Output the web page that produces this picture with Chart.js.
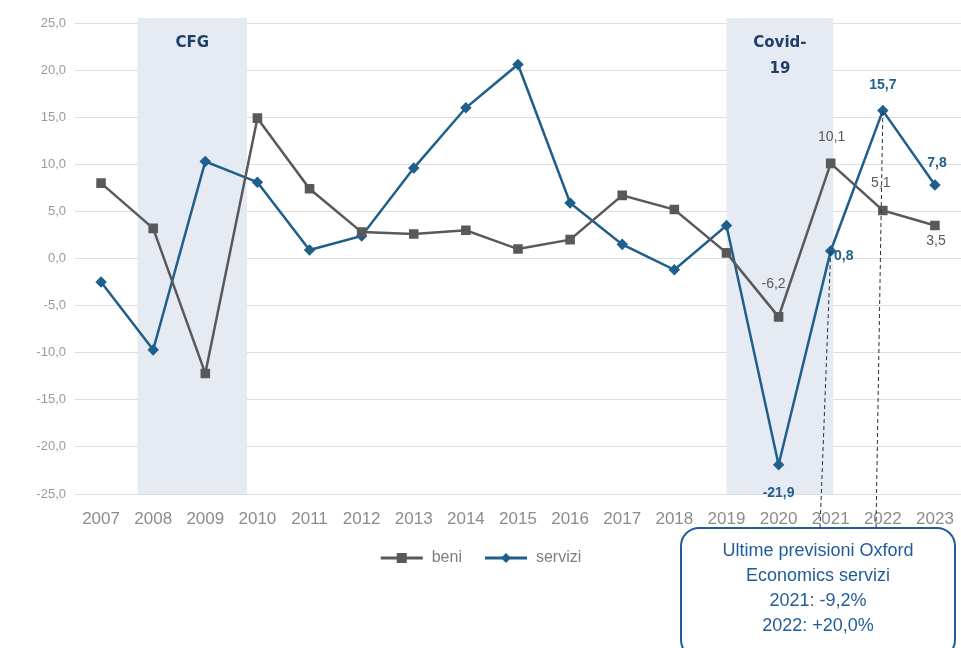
<!DOCTYPE html>
<html>
<head>
<meta charset="utf-8">
<script src="https://cdn.jsdelivr.net/npm/chart.js@4"></script>
<style>
  html, body { margin: 0; padding: 0; background: #ffffff; }
  #wrap { width: 961px; height: 648px; position: relative; }
</style>
</head>
<body>
<div id="wrap"><canvas id="chart" width="961" height="648"></canvas></div>
<script>
// dati
const years = ['2007', '2008', '2009', '2010', '2011', '2012', '2013', '2014', '2015', '2016', '2017', '2018', '2019', '2020', '2021', '2022', '2023'];
const beni = [8.0, 3.2, -12.2, 14.9, 7.4, 2.8, 2.6, 3.0, 1.0, 2.0, 6.7, 5.2, 0.6, -6.2, 10.1, 5.1, 3.5];
const servizi = [-2.5, -9.7, 10.3, 8.1, 0.9, 2.4, 9.6, 16.0, 20.6, 5.9, 1.5, -1.2, 3.5, -21.9, 0.8, 15.7, 7.8];
const yTicks = [25, 20, 15, 10, 5, 0, -5, -10, -15, -20, -25];
const shadedNames = [['CFG'], ['Covid-', '19']];
const shadedFrom = [2007.7, 2019.0];
const shadedTo = [2009.8, 2021.05];
const beniLabelled = ['2020', '2021', '2022', '2023'];
const serviziLabelled = ['2020', '2021', '2022', '2023'];
const noteLines = ['Ultime previsioni Oxford', 'Economics servizi', '2021: -9,2%', '2022: +20,0%'];
const noteYears = ['2021', '2022'];

const GREY = '#595959';
const BLUE = '#1f5f8b';
const fmt = v => v.toFixed(1).replace('.', ',');

function legendIcon(color, shape) {
    const c = document.createElement('canvas');
    c.width = 44; c.height = 12;
    const g = c.getContext('2d');
    g.strokeStyle = color;
    g.lineWidth = 3;
    g.beginPath(); g.moveTo(1, 6); g.lineTo(43, 6); g.stroke();
    g.fillStyle = color;
    if (shape === 'rect') {
        g.fillRect(17, 1, 10, 10);
    } else {
        g.beginPath(); g.moveTo(22, 1); g.lineTo(27, 6); g.lineTo(22, 11); g.lineTo(17, 6); g.closePath(); g.fill();
    }
    return c;
}

// fasce ombreggiate dietro le linee
const bandsPlugin = {
    id: 'bands',
    beforeDatasetsDraw(chart) {
        const { ctx, chartArea, scales } = chart;
        const x = scales.x;
        const toPx = yr => x.getPixelForValue(yr - 2007);
        ctx.save();
        shadedNames.forEach((name, i) => {
            const x0 = toPx(shadedFrom[i]);
            const x1 = toPx(shadedTo[i]);
            ctx.fillStyle = '#e5eaf3';
            ctx.fillRect(x0, chartArea.top - 5, x1 - x0, chartArea.bottom - chartArea.top + 5);
            ctx.fillStyle = '#1f3f66';
            ctx.font = 'bold 15px "DejaVu Sans"';
            ctx.textAlign = 'center';
            ctx.textBaseline = 'middle';
            name.forEach((t, k) => ctx.fillText(t, (x0 + x1) / 2, chartArea.top + 20 + k * 26));
        });
        ctx.restore();
    }
};

// etichette valori, nota e linee tratteggiate
const labelsPlugin = {
    id: 'valueLabels',
    afterDatasetsDraw(chart) {
        const { ctx } = chart;
        const mb = chart.getDatasetMeta(0).data;
        const ms = chart.getDatasetMeta(1).data;
        ctx.save();
        ctx.textAlign = 'center';
        ctx.textBaseline = 'middle';

        const bOff = { '2020': [-5, -33], '2021': [1, -26], '2022': [-2, -27], '2023': [1, 16] };
        ctx.fillStyle = GREY;
        ctx.font = '14px "Liberation Sans"';
        beniLabelled.forEach(yr => {
            const i = years.indexOf(yr);
            const p = mb[i];
            ctx.fillText(fmt(beni[i]), p.x + bOff[yr][0], p.y + bOff[yr][1]);
        });

        const sOff = { '2020': [0, 28], '2021': [13, 5], '2022': [0, -25], '2023': [2, -22] };
        ctx.fillStyle = BLUE;
        ctx.font = 'bold 14px "Liberation Sans"';
        serviziLabelled.forEach(yr => {
            const i = years.indexOf(yr);
            const p = ms[i];
            ctx.fillText(fmt(servizi[i]), p.x + sOff[yr][0], p.y + sOff[yr][1]);
        });

        // box nota
        const bx = 681, by = 528, bw = 274, bh = 130, r = 18;
        ctx.beginPath();
        ctx.roundRect(bx, by, bw, bh, r);
        ctx.fillStyle = '#ffffff';
        ctx.fill();
        ctx.lineWidth = 2;
        ctx.strokeStyle = '#1f5c99';
        ctx.stroke();
        ctx.fillStyle = '#1f5c99';
        ctx.font = '18px "Liberation Sans"';
        noteLines.forEach((t, k) => ctx.fillText(t, bx + bw / 2, by + 23 + k * 25));

        // linee tratteggiate verso i punti servizi
        ctx.setLineDash([4, 3]);
        ctx.lineWidth = 1;
        ctx.strokeStyle = '#1f2f44';
        const footX = [820, 876];
        noteYears.forEach((yr, k) => {
            const p = ms[years.indexOf(yr)];
            ctx.beginPath();
            ctx.moveTo(footX[k], by);
            ctx.lineTo(p.x, p.y);
            ctx.stroke();
        });
        ctx.restore();
    }
};

const ctx = document.getElementById('chart').getContext('2d');
const chart = new Chart(ctx, {
    type: 'line',
    data: {
        labels: years,
        datasets: [{
            label: 'beni',
            data: beni,
            borderColor: GREY,
            backgroundColor: GREY,
            borderWidth: 2.5,
            pointStyle: 'rect',
            pointRadius: 5,
            pointHoverRadius: 5,
            tension: 0
        }, {
            label: 'servizi',
            data: servizi,
            borderColor: BLUE,
            backgroundColor: BLUE,
            borderWidth: 2.5,
            pointStyle: 'rectRot',
            pointRadius: 4,
            pointHoverRadius: 4,
            tension: 0
        }]
    },
    options: {
        responsive: false,
        animation: false,
        layout: {
            autoPadding: false,
            padding: { top: 23, right: 0, left: 0, bottom: 72 }
        },
        plugins: {
            legend: {
                position: 'bottom',
                labels: {
                    color: '#7f7f7f',
                    font: { size: 16, family: '"Liberation Sans"' },
                    usePointStyle: true,
                    pointStyleWidth: 44,
                    padding: 22,
                    generateLabels: ch => ch.data.datasets.map((ds, i) => ({
                        text: ds.label,
                        fontColor: '#7f7f7f',
                        pointStyle: legendIcon(ds.borderColor, i === 0 ? 'rect' : 'diamond'),
                        lineWidth: 0,
                        strokeStyle: 'transparent',
                        fillStyle: 'transparent',
                        datasetIndex: i
                    }))
                }
            },
            tooltip: { enabled: false }
        },
        scales: {
            x: {
                offset: true,
                grid: { display: false },
                border: { display: false },
                afterFit: s => { s.paddingLeft = 0; s.paddingRight = 0; s.height = 34; },
                ticks: {
                    color: '#8c8c8c',
                    font: { size: 17, family: '"Liberation Sans"' },
                    maxRotation: 0,
                    autoSkip: false,
                    padding: 7
                }
            },
            y: {
                min: -25,
                max: 25,
                afterBuildTicks: s => { s.ticks = yTicks.map(v => ({ value: v })); },
                afterFit: s => { s.width = 75; s.paddingTop = 0; s.paddingBottom = 0; },
                grid: { color: '#dedede', drawTicks: false },
                border: { display: false },
                ticks: {
                    color: '#9a9a9a',
                    font: { size: 13, family: '"Liberation Sans"' },
                    padding: 9,
                    callback: v => fmt(v)
                }
            }
        }
    },
    plugins: [bandsPlugin, labelsPlugin]
});
</script>
</body>
</html>
